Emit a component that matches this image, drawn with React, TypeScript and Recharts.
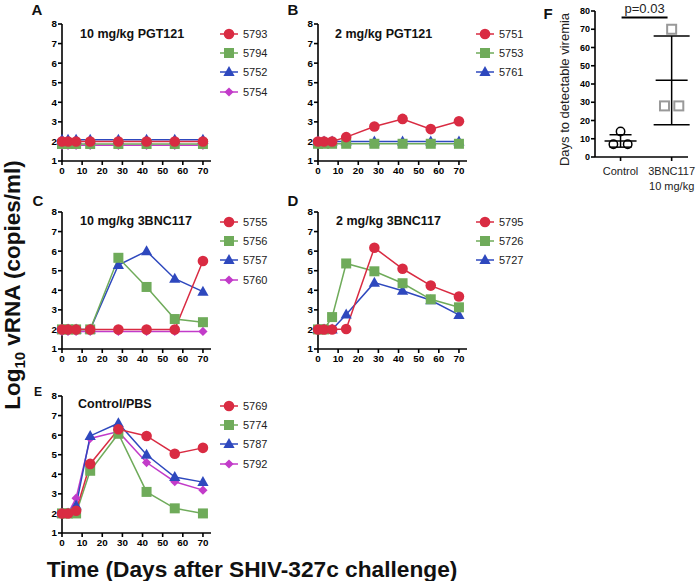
import React from 'react';
import {
  LineChart,
  Line,
  XAxis,
  YAxis,
  Legend,
  ComposedChart,
  Scatter,
  ErrorBar,
  ReferenceLine,
} from 'recharts';

const FONT = "'Liberation Sans', Arial, Helvetica, sans-serif";

// ---------- shared axes ----------
const days = [0, 3, 7, 14, 28, 42, 56, 70];
const dayTicks = [0, 10, 20, 30, 40, 50, 60, 70];
const logTicks = [1, 2, 3, 4, 5, 6, 7, 8];

// ---------- Panel A: 10 mg/kg PGT121 ----------
const a5793 = [2.0, 2.0, 2.0, 2.0, 2.0, 2.0, 2.0, 2.0];
const a5794 = [1.87, 1.87, 1.87, 1.87, 1.87, 1.87, 1.87, 1.87];
const a5752 = [2.08, 2.08, 2.08, 2.08, 2.08, 2.08, 2.08, 2.08];
const a5754 = [1.8, 1.8, 1.8, 1.8, 1.8, 1.8, 1.8, 1.8];

// ---------- Panel B: 2 mg/kg PGT121 ----------
const b5751 = [2.0, 2.0, 2.0, 2.22, 2.76, 3.15, 2.63, 3.03];
const b5753 = [1.88, 1.88, 1.88, 1.88, 1.88, 1.88, 1.88, 1.88];
const b5761 = [1.99, 1.99, 1.99, 1.99, 1.99, 1.99, 1.99, 1.99];

// ---------- Panel C: 10 mg/kg 3BNC117 ----------
const c5755 = [2.0, 2.0, 2.0, 2.0, 2.0, 2.0, 2.0, 5.5];
const c5756 = [2.0, 2.0, 2.0, 2.0, 5.66, 4.17, 2.53, 2.37];
const c5757 = [2.0, 2.0, 2.0, 2.0, 5.29, 6.0, 4.59, 3.93];
const c5760 = [1.9, 1.9, 1.9, 1.9, 1.9, 1.9, 1.9, 1.9];

// ---------- Panel D: 2 mg/kg 3BNC117 ----------
const d5795 = [2.0, 2.0, 2.0, 2.02, 6.17, 5.1, 4.24, 3.68];
const d5726 = [2.0, 2.0, 2.63, 5.37, 4.97, 4.36, 3.54, 3.13];
const d5727 = [2.0, 2.0, 2.0, 2.76, 4.39, 3.98, 3.49, 2.74];

// ---------- Panel E: Control/PBS ----------
const e5769 = [2.0, 2.0, 2.14, 4.53, 6.3, 5.96, 5.05, 5.35];
const e5774 = [2.0, 2.0, 2.0, 4.18, 6.07, 3.1, 2.26, 2.0];
const e5787 = [2.0, 2.0, 2.4, 5.96, 6.61, 5.0, 3.86, 3.6];
const e5792 = [2.0, 2.0, 2.78, 5.83, 6.18, 4.6, 3.62, 3.19];

// ---------- Panel F: days to detectable viremia ----------
const fGroups = ['Control', '3BNC117\n10 mg/kg'];
const fTicks = [0, 10, 20, 30, 40, 50, 60, 70, 80];
const controlDays = [7, 7, 14];
const treatedDays = [28, 28, 70];
const groupMeans = [8.8, 42];
const groupErrors = [3.4, 24.3];
const pValueLabel = 'p=0.03';

const RED = '#d92b42';
const GREEN = '#6fab5a';
const BLUE = '#2e48be';
const MAGENTA = '#c23bc9';

type Shape = 'circle' | 'square' | 'triangle' | 'diamond';
type SeriesDef = { key: string; name: string; values: number[]; color: string; shape: Shape };

function Marker({ shape, cx, cy, color }: { shape: Shape; cx: number; cy: number; color: string }) {
  if (cx == null || cy == null || isNaN(cx) || isNaN(cy)) return null;
  switch (shape) {
    case 'circle':
      return <circle cx={cx} cy={cy} r={5.3} fill={color} />;
    case 'square':
      return <rect x={cx - 5} y={cy - 5} width={10} height={10} fill={color} />;
    case 'triangle':
      return (
        <polygon
          points={`${cx},${cy - 6} ${cx + 5.6},${cy + 4} ${cx - 5.6},${cy + 4}`}
          fill={color}
        />
      );
    default:
      return (
        <polygon
          points={`${cx},${cy - 4.6} ${cx + 4.6},${cy} ${cx},${cy + 4.6} ${cx - 4.6},${cy}`}
          fill={color}
        />
      );
  }
}

const axisTick = { fontSize: 9.8, fontWeight: 'bold', fill: '#000', fontFamily: FONT } as any;
const axisStroke = { stroke: '#000', strokeWidth: 1.6 };

function PanelLegend({ series }: { series: SeriesDef[] }) {
  return (
    <div style={{ fontFamily: FONT, fontSize: 11, color: '#222' }}>
      {series.map((s) => (
        <div key={s.key} style={{ display: 'flex', alignItems: 'center', height: 19.4 }}>
          <svg width={30} height={14} style={{ display: 'block' }}>
            <line x1={8} x2={26} y1={7} y2={7} stroke={s.color} strokeWidth={1.5} />
            <Marker shape={s.shape} cx={17} cy={7} color={s.color} />
          </svg>
          <span style={{ marginLeft: 1 }}>{s.name}</span>
        </div>
      ))}
    </div>
  );
}

function Panel({ left, top, series }: { left: number; top: number; series: SeriesDef[] }) {
  const data = days.map((d, i) => {
    const row: any = { day: d };
    series.forEach((s) => {
      row[s.key] = s.values[i];
    });
    return row;
  });
  const drawOrder = [...series].reverse();
  return (
    <div style={{ position: 'absolute', left, top }}>
      <LineChart
        width={290}
        height={185}
        data={data}
        margin={{ top: 24, right: 79, bottom: 4, left: 0 }}
      >
        <XAxis
          dataKey="day"
          type="number"
          domain={[0, 74]}
          ticks={dayTicks}
          interval={0}
          height={20}
          tick={axisTick}
          tickSize={4}
          tickLine={axisStroke}
          axisLine={axisStroke}
        />
        <YAxis
          type="number"
          domain={[1, 8]}
          ticks={logTicks}
          interval={0}
          width={62}
          tick={axisTick}
          tickSize={4}
          tickMargin={1}
          tickLine={axisStroke}
          axisLine={axisStroke}
        />
        {drawOrder.map((s) => (
          <Line
            key={s.key}
            dataKey={s.key}
            name={s.name}
            stroke={s.color}
            strokeWidth={1.5}
            isAnimationActive={false}
            dot={(p: any) => (
              <Marker key={`${s.key}-${p.index}`} shape={s.shape} cx={p.cx} cy={p.cy} color={s.color} />
            )}
            activeDot={false}
          />
        ))}
        <Legend
          layout="vertical"
          align="center"
          verticalAlign="middle"
          wrapperStyle={{ left: 212, top: 24, width: 75 }}
          content={() => <PanelLegend series={series} />}
        />
      </LineChart>
    </div>
  );
}

const seriesA: SeriesDef[] = [
  { key: 's5793', name: '5793', values: a5793, color: RED, shape: 'circle' },
  { key: 's5794', name: '5794', values: a5794, color: GREEN, shape: 'square' },
  { key: 's5752', name: '5752', values: a5752, color: BLUE, shape: 'triangle' },
  { key: 's5754', name: '5754', values: a5754, color: MAGENTA, shape: 'diamond' },
];
const seriesB: SeriesDef[] = [
  { key: 's5751', name: '5751', values: b5751, color: RED, shape: 'circle' },
  { key: 's5753', name: '5753', values: b5753, color: GREEN, shape: 'square' },
  { key: 's5761', name: '5761', values: b5761, color: BLUE, shape: 'triangle' },
];
const seriesC: SeriesDef[] = [
  { key: 's5755', name: '5755', values: c5755, color: RED, shape: 'circle' },
  { key: 's5756', name: '5756', values: c5756, color: GREEN, shape: 'square' },
  { key: 's5757', name: '5757', values: c5757, color: BLUE, shape: 'triangle' },
  { key: 's5760', name: '5760', values: c5760, color: MAGENTA, shape: 'diamond' },
];
const seriesD: SeriesDef[] = [
  { key: 's5795', name: '5795', values: d5795, color: RED, shape: 'circle' },
  { key: 's5726', name: '5726', values: d5726, color: GREEN, shape: 'square' },
  { key: 's5727', name: '5727', values: d5727, color: BLUE, shape: 'triangle' },
];
const seriesE: SeriesDef[] = [
  { key: 's5769', name: '5769', values: e5769, color: RED, shape: 'circle' },
  { key: 's5774', name: '5774', values: e5774, color: GREEN, shape: 'square' },
  { key: 's5787', name: '5787', values: e5787, color: BLUE, shape: 'triangle' },
  { key: 's5792', name: '5792', values: e5792, color: MAGENTA, shape: 'diamond' },
];

// symmetric dodge (in category units) for repeated values within a group
const DODGE_STEP = 0.28;
function dodgeOf(values: number[], i: number) {
  const same = values.filter((v) => v === values[i]).length;
  const k = values.slice(0, i).filter((v) => v === values[i]).length;
  return (k - (same - 1) / 2) * DODGE_STEP;
}

function PanelF() {
  const controlPts = controlDays.map((v, i) => ({ x: 1 + dodgeOf(controlDays, i), y: v }));
  const treatedPts = treatedDays.map((v, i) => ({ x: 2 + dodgeOf(treatedDays, i), y: v }));
  const controlStat = [{ x: 1, y: groupMeans[0], err: groupErrors[0] }];
  const treatedStat = [{ x: 2, y: groupMeans[1], err: groupErrors[1] }];

  const meanLine = (p: any) => (
    <line x1={p.cx - 16} x2={p.cx + 16} y1={p.cy} y2={p.cy} stroke="#000" strokeWidth={1.5} />
  );

  const renderTick = (p: any) => {
    const label = fGroups[p.payload.value - 1] || '';
    const lines = label.split('\n');
    return (
      <text
        x={p.x}
        y={p.y}
        textAnchor="middle"
        fontFamily={FONT}
        fontSize={11}
        fill="#222"
      >
        {lines.map((ln: string, i: number) => (
          <tspan key={i} x={p.x} dy={i === 0 ? 12 : 14.5}>
            {ln}
          </tspan>
        ))}
      </text>
    );
  };

  return (
    <div style={{ position: 'absolute', left: 560, top: 0 }}>
      <ComposedChart width={140} height={200} margin={{ top: 11, right: 12, bottom: 3, left: 0 }}>
        <XAxis
          dataKey="x"
          type="number"
          domain={[0.5, 2.32]}
          ticks={[1, 2]}
          interval={0}
          height={40}
          tick={renderTick}
          tickSize={4}
          tickLine={axisStroke}
          axisLine={axisStroke}
        />
        <YAxis
          dataKey="y"
          type="number"
          domain={[0, 80]}
          ticks={fTicks}
          interval={0}
          width={35}
          tick={{ ...axisTick, fontSize: 9 }}
          tickSize={4}
          tickMargin={1}
          tickLine={axisStroke}
          axisLine={axisStroke}
        />
        <ReferenceLine
          segment={[
            { x: 1.02, y: 76.5 },
            { x: 1.92, y: 76.5 },
          ]}
          stroke="#000"
          strokeWidth={2}
          label={{ value: pValueLabel, position: 'top', offset: 4, fontSize: 13, fill: '#222', fontFamily: FONT }}
        />
        <Scatter
          data={controlPts}
          isAnimationActive={false}
          shape={(p: any) => (
            <circle cx={p.cx} cy={p.cy} r={4.2} fill="none" stroke="#000" strokeWidth={1.5} />
          )}
        />
        <Scatter
          data={treatedPts}
          isAnimationActive={false}
          shape={(p: any) => (
            <rect
              x={p.cx - 4.5}
              y={p.cy - 4.5}
              width={9}
              height={9}
              fill="none"
              stroke="#999"
              strokeWidth={2}
            />
          )}
        />
        <Scatter data={controlStat} isAnimationActive={false} shape={meanLine}>
          <ErrorBar dataKey="err" direction="y" width={11} stroke="#000" strokeWidth={1.5} />
        </Scatter>
        <Scatter data={treatedStat} isAnimationActive={false} shape={meanLine}>
          <ErrorBar dataKey="err" direction="y" width={18} stroke="#000" strokeWidth={1.5} />
        </Scatter>
      </ComposedChart>
    </div>
  );
}

function Overlay() {
  const letter = { fontFamily: FONT, fontWeight: 'bold' as const, fill: '#111', textAnchor: 'middle' as const };
  const title = { fontFamily: FONT, fontWeight: 'bold' as const, fill: '#111', fontSize: 12.5 };
  return (
    <svg
      width={700}
      height={581}
      style={{ position: 'absolute', left: 0, top: 0, pointerEvents: 'none' }}
    >
      <text x={37} y={15} fontSize={15} {...letter}>A</text>
      <text x={293} y={15} fontSize={15} {...letter}>B</text>
      <text x={38} y={206} fontSize={15} {...letter}>C</text>
      <text x={293} y={206} fontSize={15} {...letter}>D</text>
      <text x={38} y={396} fontSize={12} {...letter}>E</text>
      <text x={548} y={19} fontSize={15} {...letter}>F</text>

      <text x={80} y={38} {...title}>10 mg/kg PGT121</text>
      <text x={335} y={38} {...title}>2 mg/kg PGT121</text>
      <text x={80} y={225} {...title}>10 mg/kg 3BNC117</text>
      <text x={336} y={225} {...title}>2 mg/kg 3BNC117</text>
      <text x={78} y={408} {...title}>Control/PBS</text>

      <text
        transform="translate(20,285) rotate(-90)"
        textAnchor="middle"
        fontFamily={FONT}
        fontWeight="bold"
        fontSize={22.5}
        fill="#111"
      >
        Log
        <tspan fontSize={15} dy={5}>10</tspan>
        <tspan dy={-5}> vRNA (copies/ml)</tspan>
      </text>
      <text
        x={252}
        y={577}
        textAnchor="middle"
        fontFamily={FONT}
        fontWeight="bold"
        fontSize={22.7}
        fill="#111"
      >
        Time (Days after SHIV-327c challenge)
      </text>
      <text
        transform="translate(569,89.5) rotate(-90)"
        textAnchor="middle"
        fontFamily={FONT}
        fontSize={13}
        fill="#222"
      >
        Days to detectable viremia
      </text>
    </svg>
  );
}

export default function App() {
  return (
    <div
      style={{
        position: 'absolute',
        left: 0,
        top: 0,
        width: 700,
        height: 581,
        background: '#fff',
        overflow: 'hidden',
      }}
    >
      <Panel left={0} top={0} series={seriesA} />
      <Panel left={256} top={0} series={seriesB} />
      <Panel left={0} top={188} series={seriesC} />
      <Panel left={256} top={188} series={seriesD} />
      <Panel left={0} top={372} series={seriesE} />
      <PanelF />
      <Overlay />
    </div>
  );
}
